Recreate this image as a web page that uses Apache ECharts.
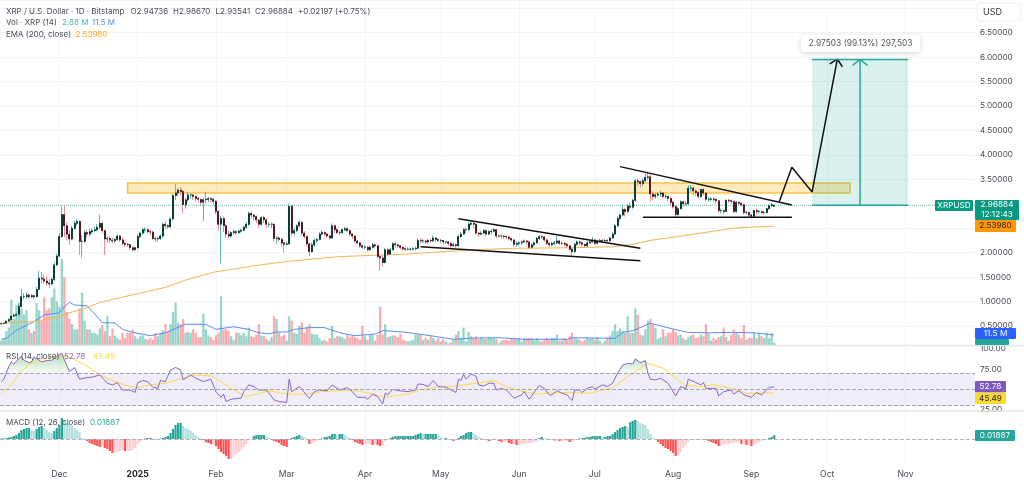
<!DOCTYPE html>
<html>
<head>
<meta charset="utf-8">
<style>html,body{margin:0;padding:0;background:#fff}#main{width:1024px;height:483px}</style>
<script src="https://cdn.jsdelivr.net/npm/echarts@6/dist/echarts.min.js"></script>
</head>
<body>
<div id="main"></div>
<script>
// daily candles from 2024-11-08
var opens = [
0.54,0.55,0.56,0.60,0.63,0.70,0.72,0.74,0.90,1.10,
1.10,1.13,1.10,1.12,1.10,1.25,1.48,1.46,1.42,1.38,
1.36,1.45,1.75,1.93,2.33,2.78,2.55,2.38,2.28,2.50,
2.60,2.64,2.23,2.23,2.41,2.38,2.43,2.45,2.47,2.52,
2.60,2.45,2.28,2.29,2.26,2.24,2.27,2.34,2.26,2.19,
2.17,2.16,2.10,2.06,2.10,2.33,2.40,2.47,2.47,2.43,
2.42,2.29,2.28,2.29,2.34,2.58,2.55,2.53,2.69,3.17,
3.22,3.28,3.25,2.98,3.08,3.18,3.18,3.15,3.11,3.09,
3.03,3.08,3.09,3.11,3.09,3.05,2.84,2.58,2.70,2.55,
2.38,2.34,2.41,2.43,2.41,2.44,2.46,2.52,2.58,2.80,
2.77,2.74,2.67,2.58,2.72,2.67,2.58,2.58,2.58,2.29,
2.30,2.27,2.20,2.17,2.18,2.95,2.40,2.45,2.55,2.62,
2.40,2.33,2.18,2.02,2.16,2.25,2.27,2.38,2.41,2.38,
2.34,2.30,2.55,2.47,2.41,2.41,2.47,2.49,2.45,2.38,
2.34,2.24,2.20,2.14,2.11,2.11,2.06,2.11,2.16,2.14,
1.92,1.89,1.80,2.06,1.97,2.06,2.18,2.16,2.14,2.11,
2.08,2.07,2.07,2.07,2.08,2.09,2.25,2.24,2.24,2.22,
2.25,2.24,2.30,2.27,2.25,2.25,2.22,2.22,2.19,2.14,
2.16,2.14,2.33,2.38,2.47,2.47,2.58,2.60,2.58,2.40,
2.38,2.40,2.45,2.38,2.43,2.44,2.47,2.34,2.34,2.34,
2.33,2.32,2.29,2.26,2.17,2.19,2.20,2.22,2.24,2.22,
2.11,2.16,2.20,2.29,2.33,2.32,2.26,2.19,2.16,2.19,
2.20,2.24,2.19,2.19,2.17,2.14,2.07,2.02,2.17,2.22,
2.20,2.17,2.14,2.20,2.22,2.26,2.19,2.24,2.25,2.24,
2.25,2.24,2.30,2.38,2.55,2.70,2.77,2.88,2.84,2.95,
2.93,3.07,3.47,3.45,3.41,3.47,3.54,3.55,3.20,3.15,
3.18,3.20,3.22,3.15,3.15,3.11,3.03,2.94,2.78,2.90,
3.04,3.00,3.00,3.32,3.32,3.26,3.23,3.15,3.29,3.22,
3.09,3.09,3.10,3.09,3.06,2.86,2.86,2.84,3.07,3.06,
3.05,2.84,3.03,3.01,2.98,2.82,2.82,2.77,2.74,2.86,
2.84,2.84,2.82,2.82,2.90,2.96,2.94736];
var closes = [
0.55,0.56,0.60,0.63,0.70,0.72,0.74,0.90,1.10,1.10,
1.13,1.10,1.12,1.10,1.25,1.48,1.46,1.42,1.38,1.36,
1.45,1.75,1.93,2.33,2.78,2.55,2.38,2.28,2.50,2.60,
2.64,2.23,2.23,2.41,2.38,2.43,2.45,2.47,2.52,2.60,
2.45,2.28,2.29,2.26,2.24,2.27,2.34,2.26,2.19,2.17,
2.16,2.10,2.06,2.10,2.33,2.40,2.47,2.47,2.43,2.42,
2.29,2.28,2.29,2.34,2.58,2.55,2.53,2.69,3.17,3.22,
3.28,3.25,2.98,3.08,3.18,3.18,3.15,3.11,3.09,3.03,
3.08,3.09,3.11,3.09,3.05,2.84,2.58,2.70,2.55,2.38,
2.34,2.41,2.43,2.41,2.44,2.46,2.52,2.58,2.80,2.77,
2.74,2.67,2.58,2.72,2.67,2.58,2.58,2.58,2.29,2.30,
2.27,2.20,2.17,2.18,2.95,2.40,2.45,2.55,2.62,2.40,
2.33,2.18,2.02,2.16,2.25,2.27,2.38,2.41,2.38,2.34,
2.30,2.55,2.47,2.41,2.41,2.47,2.49,2.45,2.38,2.34,
2.24,2.20,2.14,2.11,2.11,2.06,2.11,2.16,2.14,1.92,
1.89,1.80,2.06,1.97,2.06,2.18,2.16,2.14,2.11,2.08,
2.07,2.07,2.07,2.08,2.09,2.25,2.24,2.24,2.22,2.25,
2.24,2.30,2.27,2.25,2.25,2.22,2.22,2.19,2.14,2.16,
2.14,2.33,2.38,2.47,2.47,2.58,2.60,2.58,2.40,2.38,
2.40,2.45,2.38,2.43,2.44,2.47,2.34,2.34,2.34,2.33,
2.32,2.29,2.26,2.17,2.19,2.20,2.22,2.24,2.22,2.11,
2.16,2.20,2.29,2.33,2.32,2.26,2.19,2.16,2.19,2.20,
2.24,2.19,2.19,2.17,2.14,2.07,2.02,2.17,2.22,2.20,
2.17,2.14,2.20,2.22,2.26,2.19,2.24,2.25,2.24,2.25,
2.24,2.30,2.38,2.55,2.70,2.77,2.88,2.84,2.95,2.93,
3.07,3.47,3.45,3.41,3.47,3.54,3.55,3.20,3.15,3.18,
3.20,3.22,3.15,3.15,3.11,3.03,2.94,2.78,2.90,3.04,
3.00,3.00,3.32,3.32,3.26,3.23,3.15,3.29,3.22,3.09,
3.09,3.10,3.09,3.06,2.86,2.86,2.84,3.07,3.06,3.05,
2.84,3.03,3.01,2.98,2.82,2.82,2.77,2.74,2.86,2.84,
2.84,2.82,2.82,2.90,2.96,2.98,2.96884];
var highs = [
0.56,0.57,0.61,0.66,0.73,0.76,0.78,0.97,1.26,1.17,
1.18,1.16,1.15,1.14,1.30,1.63,1.60,1.55,1.52,1.46,
1.50,1.80,1.98,2.40,2.95,2.97,2.62,2.46,2.55,2.65,
2.68,2.66,2.36,2.46,2.47,2.48,2.50,2.53,2.58,2.78,
2.62,2.47,2.33,2.33,2.30,2.30,2.38,2.36,2.31,2.22,
2.20,2.18,2.12,2.13,2.37,2.43,2.50,2.52,2.50,2.47,
2.45,2.33,2.33,2.38,2.62,2.65,2.58,2.72,3.20,3.40,
3.32,3.34,3.28,3.12,3.24,3.22,3.20,3.16,3.14,3.10,
3.12,3.25,3.14,3.14,3.12,3.08,2.87,2.75,2.74,2.58,
2.46,2.44,2.47,2.46,2.47,2.49,2.55,2.62,2.84,2.84,
2.80,2.76,2.69,2.75,2.75,2.70,2.62,2.62,2.60,2.34,
2.33,2.30,2.22,2.22,3.00,2.97,2.50,2.58,2.66,2.64,
2.44,2.35,2.20,2.20,2.29,2.30,2.42,2.46,2.44,2.40,
2.36,2.60,2.58,2.50,2.46,2.49,2.53,2.52,2.48,2.40,
2.36,2.26,2.22,2.17,2.16,2.14,2.15,2.20,2.19,2.16,
1.95,1.95,2.10,2.10,2.10,2.22,2.22,2.19,2.16,2.13,
2.11,2.11,2.10,2.12,2.12,2.30,2.30,2.28,2.26,2.28,
2.28,2.35,2.32,2.30,2.28,2.26,2.24,2.24,2.21,2.20,
2.18,2.36,2.42,2.50,2.52,2.62,2.66,2.62,2.60,2.42,
2.44,2.48,2.47,2.46,2.48,2.50,2.48,2.37,2.37,2.36,
2.35,2.33,2.30,2.27,2.23,2.23,2.25,2.27,2.26,2.24,
2.19,2.23,2.32,2.36,2.36,2.34,2.29,2.21,2.22,2.24,
2.35,2.26,2.23,2.22,2.19,2.16,2.10,2.20,2.25,2.25,
2.22,2.18,2.23,2.25,2.32,2.28,2.27,2.29,2.28,2.28,
2.28,2.33,2.42,2.58,2.75,2.80,2.96,2.92,3.00,3.03,
3.10,3.50,3.52,3.48,3.52,3.62,3.66,3.60,3.26,3.22,
3.24,3.27,3.24,3.20,3.17,3.13,3.06,2.98,2.94,3.07,
3.07,3.06,3.38,3.38,3.36,3.30,3.26,3.31,3.32,3.24,
3.14,3.14,3.13,3.10,3.08,2.90,2.88,3.09,3.10,3.09,
3.06,3.06,3.05,3.03,3.00,2.86,2.84,2.80,2.88,2.90,
2.87,2.86,2.85,2.92,2.99,3.02,2.9867];
var lows = [
0.54,0.54,0.56,0.59,0.62,0.68,0.70,0.72,0.88,1.05,
1.06,1.06,1.07,1.06,1.08,1.24,1.38,1.36,1.32,1.28,
1.33,1.42,1.72,1.90,2.30,2.32,2.25,2.16,2.25,2.46,
2.55,1.95,1.90,2.20,2.31,2.33,2.38,2.42,2.44,2.48,
2.40,1.95,2.20,2.20,2.20,2.20,2.24,2.22,2.15,2.12,
2.12,2.06,2.03,2.03,2.08,2.30,2.36,2.41,2.38,2.36,
2.26,2.22,2.22,2.26,2.30,2.48,2.48,2.50,2.66,3.08,
3.15,3.17,2.80,2.90,3.04,3.10,3.08,3.05,3.03,2.95,
2.65,3.00,3.03,3.02,2.98,2.78,2.45,1.78,2.42,2.30,
2.30,2.30,2.38,2.36,2.38,2.41,2.44,2.49,2.55,2.70,
2.66,2.60,2.52,2.55,2.60,2.50,2.52,2.50,2.22,2.18,
2.22,2.13,2.00,2.15,2.17,2.33,2.35,2.42,2.52,2.36,
2.28,2.12,1.92,2.00,2.12,2.20,2.25,2.35,2.34,2.30,
2.27,2.28,2.40,2.38,2.36,2.38,2.44,2.43,2.35,2.28,
2.20,2.17,2.09,2.07,2.06,2.03,2.04,2.09,2.10,1.88,
1.63,1.72,1.78,1.93,1.95,2.04,2.10,2.10,2.06,2.04,
2.03,2.04,2.04,2.05,2.05,2.08,2.19,2.20,2.18,2.18,
2.20,2.22,2.22,2.21,2.20,2.17,2.18,2.14,2.10,2.12,
2.10,2.12,2.30,2.36,2.40,2.44,2.55,2.50,2.36,2.32,
2.35,2.37,2.33,2.36,2.38,2.41,2.30,2.31,2.29,2.28,
2.28,2.25,2.22,2.12,2.12,2.13,2.15,2.20,2.16,2.07,
2.08,2.13,2.18,2.26,2.27,2.22,2.15,2.12,2.13,2.15,
2.18,2.16,2.15,2.13,2.10,2.04,1.92,2.00,2.14,2.15,
2.13,2.11,2.12,2.18,2.20,2.16,2.17,2.21,2.20,2.21,
2.21,2.23,2.28,2.36,2.52,2.66,2.74,2.74,2.82,2.86,
2.90,3.04,3.36,3.33,3.36,3.44,3.48,3.05,3.08,3.10,
3.13,3.14,3.12,3.10,3.04,2.96,2.90,2.72,2.74,2.88,
2.94,2.96,2.98,3.25,3.18,3.16,3.10,3.12,3.18,3.04,
3.04,3.05,3.04,3.00,2.82,2.80,2.78,2.84,3.02,3.00,
2.80,2.82,2.97,2.94,2.78,2.78,2.73,2.70,2.72,2.78,
2.80,2.79,2.78,2.80,2.88,2.93,2.93541];
// volume in millions
var volumes = [
5,7,16,20,52,30,46,48,42,35,
40,18,14,16,48,40,28,55,40,42,
55,65,50,44,99,78,38,30,24,18,
18,42,60,28,18,18,14,14,12,19,
23,16,33,10,19,11,8,6,14,8,
14,14,18,10,7,10,11,7,6,8,
6,14,10,14,17,24,15,24,38,49,
26,24,30,14,15,14,18,14,9,9,
36,18,11,9,6,11,14,56,18,18,
16,10,6,14,14,11,14,10,20,10,
9,12,24,11,10,7,5,9,33,30,
14,10,12,5,33,28,14,13,22,26,
14,20,24,13,12,12,8,5,6,4,
8,22,8,10,10,9,7,12,9,11,
9,8,6,22,10,6,12,12,5,12,
44,12,24,9,10,11,11,9,13,6,
5,4,5,6,12,12,12,6,8,6,
10,8,5,8,4,7,4,2,3,7,
12,16,8,20,4,15,10,8,10,7,
9,7,7,8,9,8,7,2,5,6,
6,5,8,7,7,8,4,8,8,8,
8,5,8,5,4,6,8,6,8,8,
12,5,5,8,6,10,14,8,7,6,
4,6,9,7,8,6,9,5,2,5,
9,11,16,24,16,19,16,14,33,14,
14,42,35,12,11,18,28,30,24,20,
7,9,18,10,14,14,18,15,11,12,
8,6,9,11,12,8,9,12,10,24,
13,5,8,6,9,10,20,9,5,12,
18,14,12,8,23,6,8,8,14,8,
14,10,8,14,8,14,2.88];
// MACD histogram, thousandths
var macdHist = [
2.5,2.5,5,7.5,10,15,20,30,45,50,
55,55,45,40,50,60,65,55,45,35,
30,40,55,70,105,95,80,75,65,55,
45,35,5,-5,-10,-20,-25,-30,-35,-40,
-40,-45,-50,-60,-70,-70,-65,-60,-55,-60,
-60,-60,-55,-45,-25,-15,-5,2.5,5,5,
2.5,-2.5,-5,2.5,5,10,15,30,50,70,
80,80,65,55,50,40,30,20,10,2.5,
-5,-15,-20,-25,-25,-35,-50,-65,-75,-85,
-100,-100,-90,-75,-65,-55,-40,-25,-5,-2.5,
15,20,20,20,20,10,5,-2.5,-10,-15,
-20,-30,-35,-40,-5,5,10,15,20,15,
10,-5,-25,-20,-15,-10,-5,2.5,10,10,
15,25,25,20,25,25,20,10,5,-5,
-15,-20,-25,-30,-25,-25,-25,-30,-25,-30,
-35,-35,-10,-5,5,10,15,15,15,15,
15,15,15,15,20,25,30,25,25,25,
25,25,25,15,10,5,5,-2.5,-5,-10,
-5,5,15,20,30,35,35,30,20,10,
5,2.5,-5,-10,-10,-5,-2.5,-10,-15,-15,
-15,-20,-25,-25,-30,-30,-25,-25,-20,-20,
-20,-15,-10,5,10,5,2.5,-5,-5,-7.5,
-7.5,-10,-10,-10,-10,-15,-15,-5,-2.5,2.5,
5,5,10,10,15,15,15,15,10,10,
15,15,25,35,45,55,60,65,60,85,
90,95,90,80,75,70,50,25,5,-5,
-15,-25,-35,-45,-50,-60,-70,-85,-80,-65,
-45,-30,-15,-5,-5,-5,-5,-2.5,-2.5,-5,
-10,-15,-20,-25,-35,-35,-25,-25,-25,-20,
-20,-15,-15,-25,-25,-30,-30,-35,-25,-20,
-15,-10,-5,-2.5,5,10,18.87];

// [day index, value]
var emaPoints = [[0,0.556],[13,0.59],[23,0.69],[27,0.77],[33,0.86],[39,0.98],[48,1.09],[65,1.29],[73,1.44],[84,1.6],[100,1.73],[113,1.82],[134,1.92],[160,1.97],[187,2.06],[204,2.09],[226,2.1],[242,2.12],[250,2.17],[258,2.26],[268,2.33],[273,2.37],[290,2.5],[298,2.525],[306,2.5398]];
var volMaPoints = [[0,6.5],[2,7.7],[6,17],[13,27],[17,34.5],[23,37],[25,44],[27,49],[29,46],[34,45],[37,36],[40,25.5],[45,25.5],[48,18],[52,14.5],[59,10.7],[65,14],[69,19],[73,24],[81,23.6],[85,18],[92,21],[98,18],[102,14],[106,12.7],[109,15],[113,15],[116,18],[122,20],[128,20],[132,16],[134,14],[140,10.7],[148,12.6],[151,16.5],[159,15],[163,13.4],[170,10.7],[179,6.5],[187,8],[197,8.4],[207,6.5],[224,6.5],[226,8.4],[240,7.7],[243,7.7],[246,14.5],[250,16.5],[252,19],[257,25],[265,19],[272,14.5],[279,14],[290,14.5],[298,14],[306,11.5]];
var rsiPoints = [[0,59.5],[1,62.4],[3,78],[4,84],[5,81],[7,88.5],[8,90.5],[9,85.6],[11,83],[12,84],[13,90],[15,86],[16,84],[18,85.6],[20,86],[22,91],[24,94.7],[25,86.4],[27,72],[28,74],[29,77],[31,62.4],[34,64.5],[36,65],[39,67.8],[42,57.4],[44,55.4],[46,58],[48,49],[51,49],[53,46],[54,58],[56,60.8],[58,59.5],[60,52.5],[62,51],[63,60.8],[65,59.5],[67,74],[69,77],[71,74],[72,61.6],[75,67.8],[77,63.6],[80,59.5],[83,62.4],[85,47],[87,40],[88,44],[89,34.7],[91,37.6],[95,39],[96,47],[98,55.4],[100,53.3],[102,49],[105,49],[108,36.8],[110,34.7],[113,33.5],[114,62.4],[115,47],[118,53.3],[122,38.8],[124,47],[126,49],[129,48],[131,55.4],[134,49],[137,52],[139,47],[141,40],[144,40],[145,37.6],[147,43.8],[149,41],[151,31.8],[152,45],[153,43],[155,50],[157,48.3],[161,47],[164,49],[165,56.6],[167,56],[169,53.3],[171,60.8],[173,53.3],[176,52.5],[180,45.9],[181,62.4],[182,60.8],[183,68.6],[184,62.4],[186,69],[188,65.7],[189,55.4],[191,54],[193,57.4],[195,57.4],[196,49],[198,51],[200,49],[203,38.8],[206,43],[207,47],[209,37.6],[213,54.5],[215,51],[217,43],[218,43],[220,48.3],[222,45],[224,43],[226,36],[227,49],[229,49],[230,45.9],[232,51],[234,53.3],[235,50],[238,55.4],[240,53.3],[242,57.4],[244,69.9],[246,80],[248,82],[250,81.4],[251,87.6],[253,83],[255,85.6],[256,69.9],[257,62.4],[259,61.6],[261,63.6],[264,57.4],[267,41.7],[269,53.3],[271,50],[272,62.4],[275,58.3],[277,55.4],[278,58.3],[279,51],[283,51],[284,41.7],[286,47],[289,49],[290,44],[292,48.3],[294,43],[297,40],[299,45.9],[301,43],[304,52.5],[306,52.78]];
var rsiMaPoints = [[0,45],[4,55.4],[7,70],[11,80.4],[15,87],[19,89],[25,91],[29,87],[34,78.5],[39,67.8],[44,60.8],[49,55],[54,52],[59,55.4],[65,57.4],[72,63.6],[77,67.8],[83,66.5],[88,57.4],[92,49],[97,41],[101,44],[106,48],[113,44],[121,44],[127,47],[134,48.3],[139,49],[146,44.8],[152,40],[161,44],[166,49],[174,53.3],[180,54],[190,58.3],[195,60.4],[200,53.3],[207,47],[212,44],[219,45.9],[226,45.9],[233,45],[242,52],[248,65.7],[256,82],[262,76],[269,59.5],[271,55],[277,53.3],[282,55.4],[289,51],[295,45],[306,45.49]];

// drawings, as [date, price]
var blackLines = [
  [['2025-05-08',2.695],['2025-07-19',2.09]],
  [['2025-04-23',2.123],['2025-07-19',1.836]],
  [['2025-07-11',3.759],['2025-09-17',2.975]],
  [['2025-07-20',2.724],['2025-09-17',2.724]],
  [['2025-09-12',3.043],['2025-09-17',3.746],['2025-09-25',3.241],['2025-10-05',5.96]],
  [['2025-10-02',5.86],['2025-10-05',5.96],['2025-10-07',5.80]]
];
var targetLines = [
  [['2025-09-25',5.95],['2025-11-02',5.95]],
  [['2025-09-25',2.97],['2025-11-02',2.97]],
  [['2025-10-14',2.97],['2025-10-14',5.95]],
  [['2025-10-11',5.83],['2025-10-14',5.95],['2025-10-17',5.83]]
];
var zone = [['2024-12-28',3.425],['2025-10-10',3.22]];
var target = [['2025-09-25',5.95],['2025-11-02',2.97]];
var lastPrice = 2.96884;

var priceTicks = [0.5,1,1.5,2,2.5,3,3.5,4,4.5,5,5.5,6,6.5];

var dates = [];
for (var d = Date.UTC(2024,10,8), n = 0; n < 386; n++, d += 86400000) {
  dates.push(new Date(d).toISOString().slice(0,10));
}
var isMonthStart = function(index, value) { return value.slice(8) === '01'; };
var MONTHS = ['Jan','Feb','Mar','Apr','May','Jun','Jul','Aug','Sep','Oct','Nov','Dec'];

var FONT = 'Inter';
var GRID_COLOR = '#f2f4f9';
var TEXT = '#4a4d57';

function xAxisFor(gridIndex, withLabels) {
  return {
    type: 'category', gridIndex: gridIndex, data: dates,
    axisLine: {show: false}, axisTick: {show: false},
    splitLine: {show: true, interval: isMonthStart, alignWithLabel: true, lineStyle: {color: GRID_COLOR, width: 1}},
    axisLabel: withLabels ? {
      show: true, interval: isMonthStart, margin: 6, fontFamily: FONT, fontSize: 8.6, color: TEXT,
      formatter: function(v) {
        var m = +v.slice(5,7);
        return m === 1 ? '{b|' + v.slice(0,4) + '}' : MONTHS[m-1];
      },
      rich: {b: {fontFamily: FONT, fontSize: 8.6, fontWeight: 'bold', color: '#222'}}
    } : {show: false}
  };
}

var candleData = closes.map(function(c,i){ return [opens[i],c,lows[i],highs[i]]; });
var bodyData = closes.map(function(c,i){
  return [opens[i],c,Math.min(opens[i],c),Math.max(opens[i],c)];
});
var volData = volumes.map(function(v,i){
  return {value: v, itemStyle: {color: closes[i] >= opens[i] ? 'rgba(8,153,129,0.42)' : 'rgba(242,54,69,0.42)'}};
});
var macdData = macdHist.map(function(v,i){
  var prev = i ? macdHist[i-1] : 0, color;
  if (v >= 0) color = v >= prev ? '#26a69a' : '#b2dfdb';
  else color = v < prev ? '#ff5252' : '#ffcdd2';
  return {value: v, itemStyle: {color: color}};
});
var rsiOver = rsiPoints.map(function(p){ return [p[0], Math.max(p[1],70)]; });

function polySeries(pts, color, width) {
  return {type: 'line', xAxisIndex: 0, yAxisIndex: 0, data: pts, symbol: 'none', silent: true,
    lineStyle: {color: color, width: width}, z: 6};
}
var series = [];
// zone, target box and last price line
series.push({
  type: 'line', xAxisIndex: 0, yAxisIndex: 0, data: [], z: 1, silent: true,
  markArea: {silent: true, data: [
    [{coord: zone[0], itemStyle: {color: 'rgba(255,193,50,0.33)', borderColor: '#f6c445', borderWidth: 1.5}}, {coord: zone[1]}],
    [{coord: target[0], itemStyle: {color: 'rgba(8,153,129,0.15)', borderWidth: 0}}, {coord: target[1]}]
  ]},
  markLine: {silent: true, symbol: 'none', label: {show: false},
    lineStyle: {color: '#7fc6b9', type: 'dotted', width: 1},
    data: [{yAxis: lastPrice}]}
});
series.push({type: 'bar', xAxisIndex: 1, yAxisIndex: 1, data: volData, barWidth: 2.3, z: 2, silent: true});
series.push({type: 'line', xAxisIndex: 1, yAxisIndex: 1, data: volMaPoints, symbol: 'none', silent: true,
  lineStyle: {color: '#5b8df0', width: 1}, z: 3});
series.push({type: 'line', xAxisIndex: 0, yAxisIndex: 0, data: emaPoints, symbol: 'none', silent: true,
  lineStyle: {color: '#fbb24e', width: 1}, z: 3});
// wicks, then dark bodies on top
series.push({type: 'candlestick', xAxisIndex: 0, yAxisIndex: 0, data: candleData, barWidth: 1, silent: true, z: 4,
  itemStyle: {color: '#5db8a8', color0: '#f08d95', borderColor: '#5db8a8', borderColor0: '#f08d95', borderWidth: 1}});
series.push({type: 'candlestick', xAxisIndex: 0, yAxisIndex: 0, data: bodyData, barWidth: 1.5, silent: true, z: 5,
  itemStyle: {color: '#0d3b36', color0: '#4f1a25', borderColor: '#0d3b36', borderColor0: '#4f1a25', borderWidth: 1}});
blackLines.forEach(function(l){ series.push(polySeries(l, '#111', 1.5)); });
targetLines.forEach(function(l){ series.push(polySeries(l, '#26a69a', 1.5)); });

// RSI
series.push({
  type: 'line', xAxisIndex: 2, yAxisIndex: 2, data: rsiOver, symbol: 'none', silent: true, z: 2,
  lineStyle: {width: 0},
  areaStyle: {origin: 70, color: new echarts.graphic.LinearGradient(0,0,0,1,[
    {offset: 0, color: 'rgba(76,175,80,0.65)'}, {offset: 1, color: 'rgba(76,175,80,0.04)'}])},
  markArea: {silent: true, itemStyle: {color: 'rgba(126,87,194,0.11)'}, data: [[{yAxis: 70},{yAxis: 30}]]},
  markLine: {silent: true, symbol: 'none', label: {show: false},
    lineStyle: {color: '#a4a7b0', type: 'dashed', width: 1},
    data: [{yAxis: 70},{yAxis: 50},{yAxis: 30}]}
});
series.push({type: 'line', xAxisIndex: 2, yAxisIndex: 2, data: rsiMaPoints, symbol: 'none', silent: true,
  lineStyle: {color: '#fdd94a', width: 1}, z: 3});
series.push({type: 'line', xAxisIndex: 2, yAxisIndex: 2, data: rsiPoints, symbol: 'none', silent: true,
  lineStyle: {color: '#8866c8', width: 1}, z: 4});

// MACD
series.push({
  type: 'bar', xAxisIndex: 3, yAxisIndex: 3, data: macdData, barWidth: 2.2, silent: true,
  markLine: {silent: true, symbol: 'none', label: {show: false},
    lineStyle: {color: '#b2b5be', type: 'dashed', width: 1}, data: [{yAxis: 0}]}
});

function tag(x, y, w, h, bg, lines, color) {
  var items = [{type: 'rect', shape: {x: x, y: y, width: w, height: h, r: 1}, style: {fill: bg}, z: 20}];
  lines.forEach(function(t, i){
    items.push({type: 'text', x: x + w/2, y: y + (i + 0.5) * h / lines.length, z: 21,
      style: {text: t, fill: color, font: '8.2px ' + FONT, align: 'center', verticalAlign: 'middle'}});
  });
  return items;
}
function label(x, y, text, color) {
  return {type: 'text', x: x, y: y, z: 22,
    style: {text: text, fill: color || TEXT, font: '8px ' + FONT, verticalAlign: 'middle'}};
}
var graphic = [
  {type: 'line', shape: {x1: 0, y1: 345.5, x2: 1024, y2: 345.5}, style: {stroke: '#e3e5ea', lineWidth: 1.5}, z: 19},
  {type: 'line', shape: {x1: 0, y1: 411, x2: 1024, y2: 411}, style: {stroke: '#e3e5ea', lineWidth: 1.5}, z: 19},
  {type: 'rect', shape: {x: 977, y: 3, width: 44, height: 18, r: 3}, style: {fill: '#fff', stroke: '#eceef2', lineWidth: 1}, z: 20},
  {type: 'text', x: 983, y: 12, z: 21, style: {text: 'USD', fill: '#333', font: '9px ' + FONT, verticalAlign: 'middle'}},
  {type: 'rect', shape: {x: 801, y: 35, width: 119, height: 17, r: 2},
    style: {fill: '#fff', shadowBlur: 5, shadowColor: 'rgba(0,0,0,0.18)', shadowOffsetY: 1}, z: 20},
  {type: 'text', x: 860.5, y: 43.5, z: 21, style: {text: '2.97503 (99.13%) 297,503', fill: '#555', font: '8.4px ' + FONT, align: 'center', verticalAlign: 'middle'}},
  label(6, 11.5, 'XRP / U.S. Dollar · 1D · Bitstamp'),
  label(130.5, 11.5, 'O2.94736'), label(173, 11.5, 'H2.98670'),
  label(215.5, 11.5, 'L2.93541'), label(255, 11.5, 'C2.96884'),
  label(298, 11.5, '+0.02197 (+0.75%)'),
  label(6, 23, 'Vol · XRP (14)'),
  label(62, 23, '2.88 M', '#4db6a6'), label(92, 23, '11.5 M', '#5b8df0'),
  label(6, 34.5, 'EMA (200, close)'),
  label(75.5, 34.5, '2.53980', '#f9a825'),
  label(6, 356.5, 'RSI (14, close)'),
  label(64, 356.5, '52.78', '#8866c8'), label(93, 356.5, '45.49', '#fdd94a'),
  label(6, 422.5, 'MACD (12, 26, close)'),
  label(90, 422.5, '0.01887', '#26a69a')
].concat(
  tag(935, 200, 38, 11, '#089981', ['XRPUSD'], '#fff'),
  tag(975, 200, 44, 20, '#089981', ['2.96884','12:12:43'], '#fff'),
  tag(975, 220, 41, 12, '#ff9800', ['2.53980'], '#222'),
  tag(975, 339, 34, 6, '#26a69a', [''], '#fff'),
  tag(975, 328, 41, 11, '#2962ff', ['11.5 M'], '#fff'),
  tag(975, 381, 31, 11.5, '#7e57c2', ['52.78'], '#fff'),
  tag(975, 392.5, 31, 11.5, '#fdd835', ['45.49'], '#222'),
  tag(975, 430, 40, 11, '#26a69a', ['0.01887'], '#fff')
);

var chart = echarts.init(document.getElementById('main'));
chart.setOption({
  animation: false,
  backgroundColor: '#fff',
  textStyle: {fontFamily: FONT},
  grid: [
    {left: 0, right: 49, top: 0, height: 326},
    {left: 0, right: 49, top: 245, height: 100},
    {left: 0, right: 49, top: 348.9, height: 60.5},
    {left: 0, right: 49, top: 412, height: 52}
  ],
  xAxis: [xAxisFor(0,false), xAxisFor(1,false), xAxisFor(2,false), xAxisFor(3,true)],
  yAxis: [
    {gridIndex: 0, type: 'value', position: 'right', min: 0.5, max: 7.167, interval: 0.5,
      axisLine: {show: false}, axisTick: {show: false},
      splitLine: {lineStyle: {color: GRID_COLOR}},
      axisLabel: {margin: 5, fontSize: 8.2, fontFamily: FONT, color: TEXT, showMaxLabel: false,
        formatter: function(v){ return priceTicks.indexOf(v) >= 0 ? v.toFixed(5) : ''; }}},
    {gridIndex: 1, type: 'value', min: 0, max: 115, show: false},
    {gridIndex: 2, type: 'value', position: 'right', min: 25, max: 100, interval: 25,
      axisLine: {show: false}, axisTick: {show: false}, splitLine: {show: false},
      axisLabel: {margin: 5, fontSize: 8.2, fontFamily: FONT, color: TEXT,
        formatter: function(v){ return v === 50 ? '' : v.toFixed(2); }}},
    {gridIndex: 3, type: 'value', min: -125, max: 135, show: false}
  ],
  series: series,
  graphic: graphic
});
</script>
</body>
</html>
